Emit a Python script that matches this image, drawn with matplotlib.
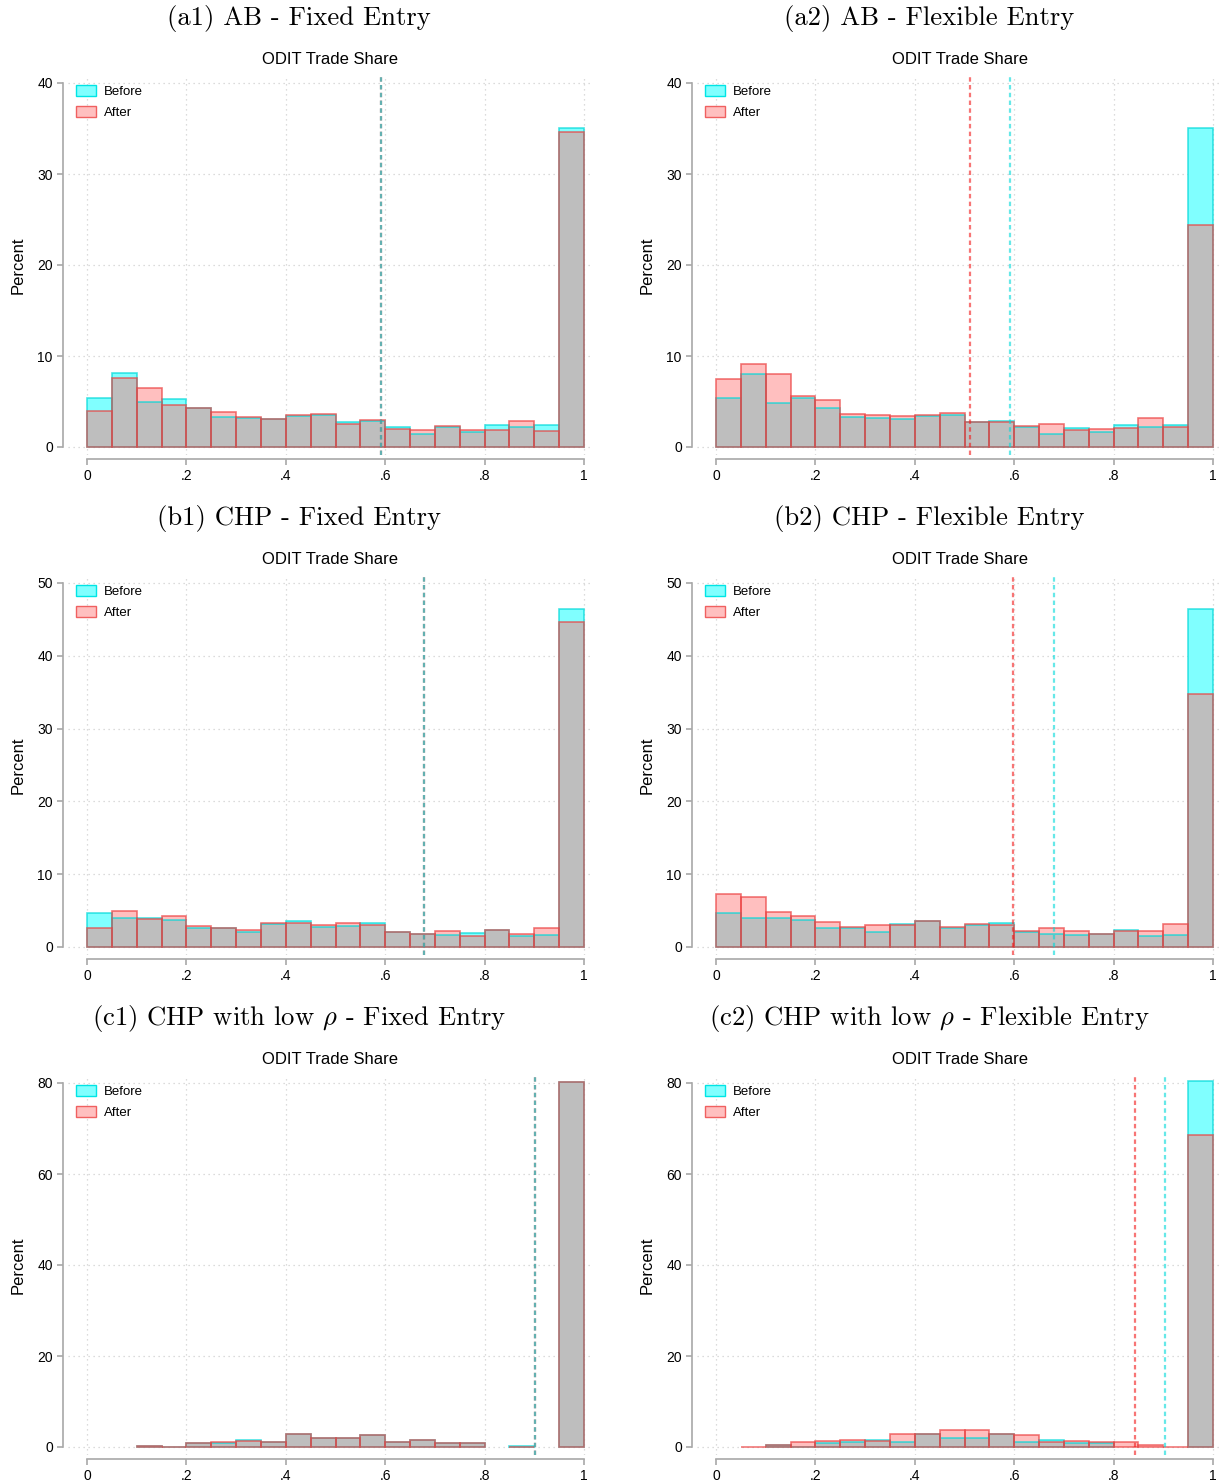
import matplotlib
matplotlib.use("Agg")
import matplotlib.pyplot as plt
import numpy as np
from matplotlib.patches import Patch

plt.rcParams['font.family'] = ['Liberation Sans', 'DejaVu Sans']
plt.rcParams['mathtext.fontset'] = 'cm'

# percent of observations per 0.05 bin of ODIT trade share (20 bins, 0 -> 1)
ab_fixed_before = [5.4, 8.1, 4.9, 5.3, 4.3, 3.26, 3.15, 3.08, 3.44, 3.5,
                   2.78, 2.82, 2.23, 1.47, 2.16, 1.61, 2.45, 2.23, 2.45, 35.05]
ab_fixed_after = [4.0, 7.6, 6.5, 4.65, 4.3, 3.9, 3.33, 3.08, 3.55, 3.66,
                  2.53, 3.0, 1.98, 1.9, 2.34, 1.9, 1.87, 2.9, 1.76, 34.6]
ab_flex_before = [5.42, 8.06, 4.84, 5.35, 4.32, 3.26, 3.15, 3.04, 3.4, 3.48,
                  2.78, 2.9, 2.23, 1.47, 2.12, 1.6, 2.45, 2.23, 2.45, 35.05]
ab_flex_after = [7.44, 9.12, 8.06, 5.6, 5.2, 3.63, 3.55, 3.4, 3.55, 3.77,
                 2.75, 2.78, 2.3, 2.56, 1.87, 2.0, 2.12, 3.19, 2.16, 24.4]
chp_fixed_before = [4.62, 3.94, 3.98, 3.7, 2.56, 2.56, 2.01, 3.11, 3.53, 2.75,
                    2.88, 3.25, 2.1, 1.79, 1.65, 1.88, 2.3, 1.51, 1.65, 46.4]
chp_fixed_after = [2.66, 4.9, 3.8, 4.21, 2.84, 2.56, 2.29, 3.25, 3.3, 2.98,
                   3.25, 2.98, 2.1, 1.8, 2.24, 1.51, 2.28, 1.83, 2.56, 44.6]
chp_flex_before = [4.67, 3.98, 3.98, 3.75, 2.61, 2.65, 2.06, 3.16, 3.53, 2.65,
                   2.98, 3.34, 2.06, 1.79, 1.65, 1.83, 2.34, 1.51, 1.65, 46.4]
chp_flex_after = [7.28, 6.82, 4.76, 4.21, 3.43, 2.7, 2.98, 2.98, 3.53, 2.7,
                  3.11, 3.07, 2.2, 2.56, 2.15, 1.83, 2.2, 2.24, 3.11, 34.75]
low_fixed_before = [0, 0, 0.2, 0.1, 0.8, 0.88, 1.54, 1.1, 2.87, 1.91,
                    1.91, 2.65, 1.03, 1.54, 0.8, 0.8, 0, 0.15, 0, 80.3]
low_fixed_after = [0, 0, 0.22, 0.05, 0.8, 1.03, 1.25, 1.1, 2.87, 1.91,
                   1.91, 2.65, 1.03, 1.54, 0.8, 0.8, 0, 0.1, 0, 80.3]
low_flex_before = [0, 0, 0.35, 0.05, 0.8, 1.1, 1.54, 1.03, 2.87, 1.98,
                   1.98, 2.8, 1.1, 1.54, 0.95, 0.95, 0, 0, 0, 80.4]
low_flex_after = [0, 0.1, 0.44, 1.1, 1.25, 1.54, 1.32, 2.87, 2.87, 3.68,
                  3.68, 2.8, 2.65, 1.1, 1.25, 1.1, 1.03, 0.44, 0.05, 68.5]

# mean ODIT trade share (dashed lines)
mean_before = [0.592, 0.592, 0.679, 0.680, 0.902, 0.903]
mean_after = [0.592, 0.511, 0.679, 0.598, 0.902, 0.843]

titles = [r"(a1) AB - Fixed Entry", r"(a2) AB - Flexible Entry",
          r"(b1) CHP - Fixed Entry", r"(b2) CHP - Flexible Entry",
          r"(c1) CHP with low $\rho$ - Fixed Entry",
          r"(c2) CHP with low $\rho$ - Flexible Entry"]
y_max = [40, 40, 50, 50, 80, 80]
y_step = [10, 10, 10, 10, 20, 20]
x_ticks = [0, 0.2, 0.4, 0.6, 0.8, 1.0]
x_labels = ["0", ".2", ".4", ".6", ".8", "1"]

before_all = [ab_fixed_before, ab_flex_before, chp_fixed_before,
              chp_flex_before, low_fixed_before, low_flex_before]
after_all = [ab_fixed_after, ab_flex_after, chp_fixed_after,
             chp_flex_after, low_fixed_after, low_flex_after]

W, H = 1224, 1484
C_BEF = '#80ffff'
C_AFT = '#ffbfbf'
C_BOTH = '#bebebe'

# pixel layout: x of data 0, px per unit, xlim, title centre
cols = [dict(x0=87, sc=497, xlim=(-0.038, 1.016), tx=299),
        dict(x0=716, sc=497, xlim=(-0.038, 1.018), tx=929)]
row_top = [75, 575, 1075]
ax_h = 380
pad_px = 8

fig = plt.figure(figsize=(W / 100, H / 100), dpi=100)

for i in range(6):
    r, c = i // 2, i % 2
    cinf = cols[c]
    left = cinf['x0'] + cinf['xlim'][0] * cinf['sc']
    width = (cinf['xlim'][1] - cinf['xlim'][0]) * cinf['sc']
    top = row_top[r]
    ax = fig.add_axes([left / W, 1 - (top + ax_h) / H, width / W, ax_h / H])

    b = np.array(before_all[i], dtype=float)
    a = np.array(after_all[i], dtype=float)
    lefts = np.linspace(0, 0.95, 20)
    lo = np.minimum(a, b)

    ax.bar(lefts, b, width=0.05, align='edge', color=C_BEF, lw=0, zorder=2)
    ax.bar(lefts, a, width=0.05, align='edge', color=C_AFT, lw=0, zorder=3)
    ax.bar(lefts, lo, width=0.05, align='edge', color=C_BOTH, lw=0, zorder=4)
    mb = b > 0
    ax.bar(lefts[mb], b[mb], width=0.05, align='edge', fill=False,
           edgecolor=(0, 0.85, 0.85), alpha=0.7, lw=1.2, zorder=5)
    ma = a > 0
    ax.bar(lefts[ma], a[ma], width=0.05, align='edge', fill=False,
           edgecolor=(0.92, 0.25, 0.25), alpha=0.7, lw=1.2, zorder=6)

    ax.axvline(mean_after[i], color=(0.95, 0.1, 0.1), alpha=0.6, lw=1.6,
               ls=(0, (2, 1.5)), zorder=7)
    ax.axvline(mean_before[i], color=(0, 0.85, 0.85), alpha=0.6, lw=1.6,
               ls=(0, (2, 1.5)), zorder=8)

    ym = y_max[i]
    pad = ym * pad_px / (ax_h - 2 * pad_px)
    ax.set_ylim(-pad, ym + pad)
    ax.set_xlim(*cinf['xlim'])
    yt = np.arange(0, ym + 1, y_step[i])
    ax.set_yticks(yt)
    ax.set_yticklabels([str(int(v)) for v in yt])
    ax.set_xticks(x_ticks)
    ax.set_xticklabels(x_labels)

    for v in yt:
        ax.axhline(v, color='#d0d0d0', lw=0.9, ls=(0, (1, 3)), zorder=1)
    for v in x_ticks:
        ax.axvline(v, color='#d0d0d0', lw=0.9, ls=(0, (1, 3)), zorder=1)

    for s in ['top', 'right']:
        ax.spines[s].set_visible(False)
    ax.spines['left'].set_position(('outward', 4))
    ax.spines['bottom'].set_position(('outward', 3))
    ax.spines['left'].set_bounds(0, ym)
    ax.spines['bottom'].set_bounds(0, 1)
    for s in ['left', 'bottom']:
        ax.spines[s].set_color('#a8a8a8')
        ax.spines[s].set_linewidth(1.2)
    ax.tick_params(axis='both', colors='#a8a8a8', length=4, width=1.2,
                   labelcolor='black', labelsize=10, pad=3)

    ax.set_ylabel('Percent', fontsize=12, labelpad=8)
    ax.set_title('ODIT Trade Share', fontsize=12, pad=8)

    handles = [Patch(facecolor=C_BEF, edgecolor='#00e5e5', lw=1),
               Patch(facecolor=C_AFT, edgecolor='#f06060', lw=1)]
    ax.legend(handles, ['Before', 'After'], loc='upper left', frameon=False,
              fontsize=9.5, handlelength=1.5, handleheight=0.9,
              handletextpad=0.6, borderaxespad=0.2, labelspacing=0.6,
              bbox_to_anchor=(0.0, 0.995))

    fig.text(cinf['tx'] / W, 1 - (18 + r * 500) / H, titles[i],
             ha='center', va='center', family='cmr10', fontsize=19.2)

fig.savefig('out.png', dpi=100)
